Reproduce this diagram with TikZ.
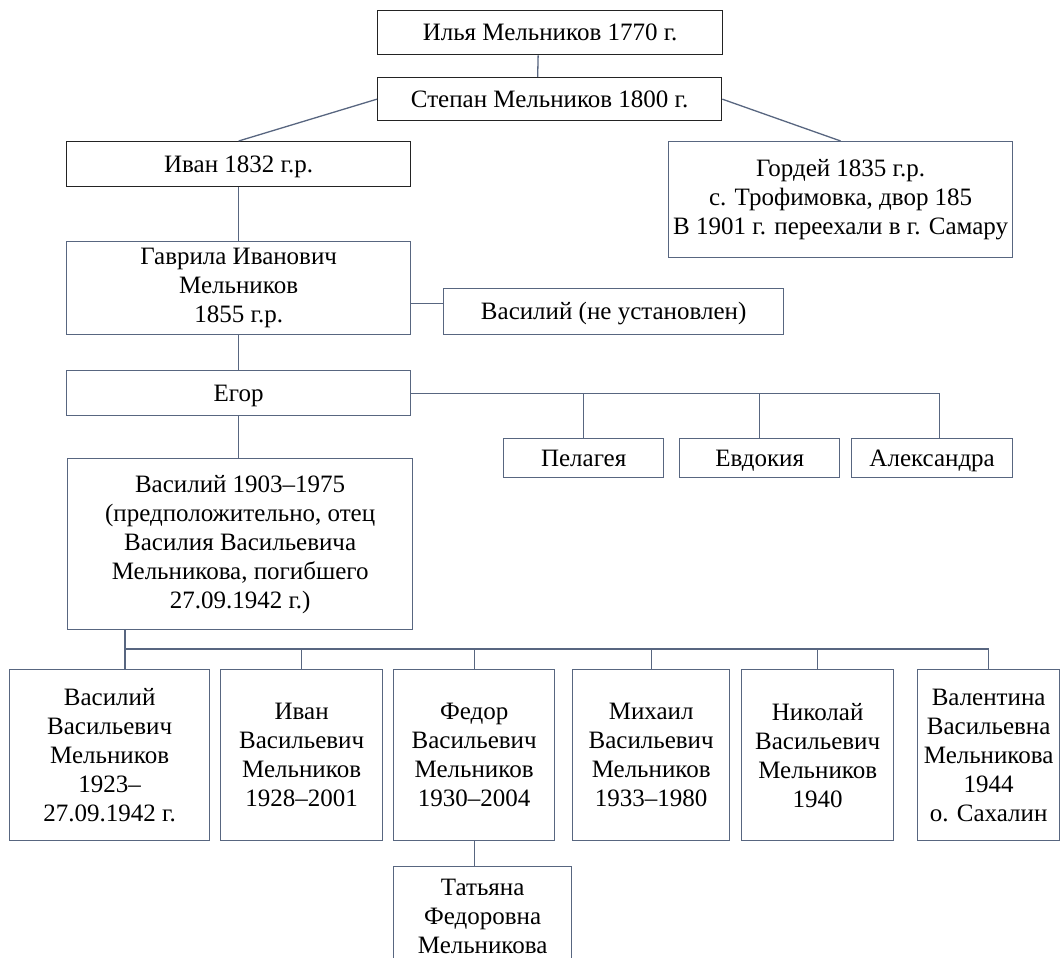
\documentclass[tikz,border=0pt]{standalone}
\usepackage{fontspec}
\setmainfont{Liberation Serif}

\definecolor{linecol}{RGB}{88,102,128}
\definecolor{darkline}{RGB}{35,35,35}

\tikzset{
  box/.style={draw=linecol, line width=1.3pt, align=center, inner sep=2pt,
    anchor=north west, font=\fontsize{25}{29}\selectfont},
  topbox/.style={box, draw=darkline},
  oneline/.style={text height=22pt, text depth=6pt},
  link/.style={draw=linecol, line width=1.3pt},
}

\begin{document}
\begin{tikzpicture}[x=1pt, y=-1pt]
\useasboundingbox (0,0) rectangle (1061,958);
\clip (0,0) rectangle (1061,958);

% Предки
\node[topbox, oneline, minimum width=345pt, minimum height=44pt] (ilya) at (377,10) {Илья Мельников 1770 г.};
\node[topbox, oneline, minimum width=344pt, minimum height=43pt] (stepan) at (377,77) {Степан Мельников 1800 г.};
\node[topbox, oneline, minimum width=344pt, minimum height=45pt] (ivan) at (66,141) {Иван 1832 г.р.};
\node[box, minimum width=344pt, minimum height=116pt] (gordey) at (668,141)
  {Гордей 1835 г.р.\\с. Трофимовка, двор 185\\В 1901 г. переехали в г. Самару};

% Гаврила и его сыновья
\node[box, minimum width=344pt, minimum height=93pt] (gavrila) at (66,241)
  {Гаврила Иванович\\Мельников\\1855 г.р.};
\node[box, oneline, minimum width=340pt, minimum height=46pt] (vasnu) at (443,288) {Василий (не установлен)};
\node[box, oneline, minimum width=344pt, minimum height=45pt] (egor) at (66,370) {Егор};

% Дети Егора
\node[box, oneline, minimum width=160pt, minimum height=39pt] (pelageya) at (503,438) {Пелагея};
\node[box, oneline, minimum width=160pt, minimum height=39pt] (evdokiya) at (679,438) {Евдокия};
\node[box, oneline, minimum width=161pt, minimum height=39pt] (aleksandra) at (851,438) {Александра};
\node[box, minimum width=345pt, minimum height=171pt] (vasily) at (67,458)
  {Василий 1903–1975\\(предположительно, отец\\Василия Васильевича\\Мельникова, погибшего\\27.09.1942 г.)};

% Дети Василия
\node[box, minimum width=200pt, minimum height=171pt] (vasvas) at (9,669)
  {Василий\\Васильевич\\Мельников\\1923–\\27.09.1942 г.};
\node[box, minimum width=162pt, minimum height=171pt] (ivanv) at (220,669)
  {Иван\\Васильевич\\Мельников\\1928–2001};
\node[box, minimum width=161pt, minimum height=171pt] (fedor) at (393,669)
  {Федор\\Васильевич\\Мельников\\1930–2004};
\node[box, minimum width=157pt, minimum height=171pt] (mikhail) at (572,669)
  {Михаил\\Васильевич\\Мельников\\1933–1980};
\node[box, minimum width=152pt, minimum height=171pt] (nikolay) at (741,669)
  {Николай\\Васильевич\\Мельников\\1940};
\node[box, minimum width=142pt, minimum height=171pt] (valentina) at (917,669)
  {Валентина\\Васильевна\\Мельникова\\1944\\о. Сахалин};
\node[box, minimum width=178pt, minimum height=100pt] (tatiana) at (393,866)
  {Татьяна\\Федоровна\\Мельникова};

% Связи
\draw[link] ([xshift=-12pt]ilya.south) -- ([xshift=-12pt]stepan.north);
\draw[link] (stepan.west) -- (ivan.north);
\draw[link] (stepan.east) -- (gordey.north);
\draw[link] (ivan.south) -- (gavrila.north);
\coordinate (vlink) at ([yshift=8pt]vasnu.west);
\draw[link] (vlink) -- (vlink -| gavrila.east);
\draw[link] (gavrila.south) -- (egor.north);

\draw[link] (egor.east) -| ([xshift=7pt]aleksandra.north);
\foreach \c in {pelageya, evdokiya}
  \draw[link] (egor.east -| \c.north) -- (\c.north);
\draw[link] (egor.south) -- (egor.south |- vasily.north);

\coordinate (bus) at (125,649);
\draw[link] (bus |- vasily.south) -- (bus |- vasvas.north);
\draw[link] (bus) -| (valentina.north);
\foreach \c in {ivanv, fedor, mikhail, nikolay}
  \draw[link] (bus -| \c.north) -- (\c.north);
\draw[link] (fedor.south) -- (fedor.south |- tatiana.north);

\end{tikzpicture}
\end{document}
